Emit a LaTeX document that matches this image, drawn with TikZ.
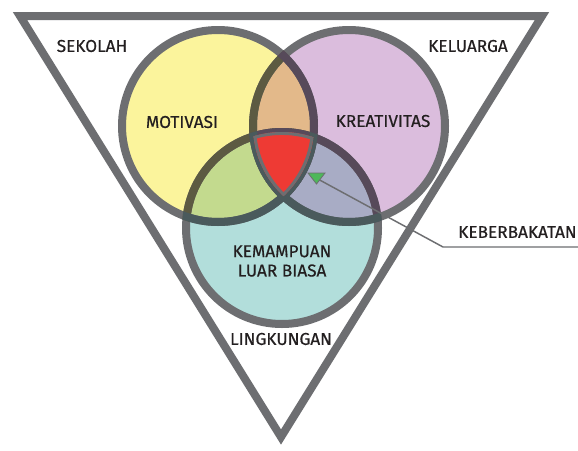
\documentclass[tikz,border=0pt]{standalone}
\usepackage{fontspec}
\setmainfont{Fira Sans}[FakeBold=0.5]
\definecolor{edge}{HTML}{6D6E71}
\definecolor{txt}{HTML}{231F20}
\definecolor{cyel}{HTML}{FBF49C}
\definecolor{cpur}{HTML}{DBBDDD}
\definecolor{ctea}{HTML}{B2DEDB}
\definecolor{cyp}{HTML}{E3B98A}
\definecolor{cyt}{HTML}{C3DA8E}
\definecolor{cpt}{HTML}{A8ACC5}
\definecolor{cred}{HTML}{EE3A34}
\definecolor{dky}{HTML}{5C5A42}
\definecolor{dkp}{HTML}{574A5A}
\definecolor{dkt}{HTML}{4A5A5C}
\definecolor{cmark}{HTML}{4DB85A}
\begin{document}
\begin{tikzpicture}[x=0.75pt,y=-0.75pt,
  lbl/.style={font=\fontsize{12.9}{14.5}\selectfont, text=txt, inner sep=0pt},
  ring/.style={line width=6pt},
  conn/.style={draw=edge, line width=1.1pt},
]
\useasboundingbox (0,0) rectangle (578,450);
\fill[white] (0,0) rectangle (578,450);
\coordinate (cy) at (218,126);
\coordinate (cp) at (349,126);
\coordinate (ct) at (282,228);
% outer triangle
\draw[draw=edge, line width=6pt, line join=miter] (20,16) -- (542,16) -- (281,437) -- cycle;
% base fills
\fill[cyel] (cy) circle[radius=72pt];
\fill[cpur] (cp) circle[radius=72pt];
\fill[ctea] (ct) circle[radius=72pt];
\begin{scope}\clip (cy) circle[radius=72pt]; \fill[cyp] (cp) circle[radius=72pt];\end{scope}
\begin{scope}\clip (cy) circle[radius=72pt]; \fill[cyt] (ct) circle[radius=72pt];\end{scope}
\begin{scope}\clip (cp) circle[radius=72pt]; \fill[cpt] (ct) circle[radius=72pt];\end{scope}
% plain strokes
\draw[ring, draw=edge] (cy) circle[radius=72pt];
\draw[ring, draw=edge] (cp) circle[radius=72pt];
\draw[ring, draw=edge] (ct) circle[radius=72pt];
% darker strokes over other fills
\begin{scope}\clip (cy) circle[radius=75pt];
  \draw[ring, draw=dky] (cp) circle[radius=72pt];
  \draw[ring, draw=dky] (ct) circle[radius=72pt];
\end{scope}
\begin{scope}\clip (cp) circle[radius=75pt];
  \draw[ring, draw=dkp] (cy) circle[radius=72pt];
  \draw[ring, draw=dkp] (ct) circle[radius=72pt];
\end{scope}
\begin{scope}\clip (ct) circle[radius=75pt];
  \draw[ring, draw=dkt] (cy) circle[radius=72pt];
  \draw[ring, draw=dkt] (cp) circle[radius=72pt];
\end{scope}
% central region
\begin{scope}
  \clip (cy) circle[radius=72pt];
  \clip (cp) circle[radius=72pt];
  \clip (ct) circle[radius=72pt];
  \fill[cred] (0,0) rectangle (578,450);
  \draw[draw=edge, line width=4.4pt] (cy) circle[radius=72pt];
  \draw[draw=edge, line width=4.4pt] (cp) circle[radius=72pt];
  \draw[draw=edge, line width=4.4pt] (ct) circle[radius=72pt];
\end{scope}
% labels
\node[lbl] (sekolah) at (92,46) {SEKOLAH};
\node[lbl] (keluarga) at (468,46) {KELUARGA};
\node[lbl] (motivasi) at (182,122) {MOTIVASI};
\node[lbl] (kreativitas) at (383,121) {KREATIVITAS};
\node[lbl, align=center] (kemampuan) at (282,261) {KEMAMPUAN\\LUAR BIASA};
\node[lbl] (lingkungan) at (281,339) {LINGKUNGAN};
\node[lbl, anchor=west] (keberbakatan) at (458,232) {KEBERBAKATAN};
% pointer
\coordinate (mk) at (316,178);
\coordinate (elbow) at (443,247);
\coordinate (lend) at (578,247);
\draw[conn] (mk) -- (elbow) -- (lend);
\filldraw[fill=cmark, draw=edge, line width=0.6pt, line join=miter] (308,173) -- (325,173) -- (316.5,184) -- cycle;
\end{tikzpicture}
\end{document}
